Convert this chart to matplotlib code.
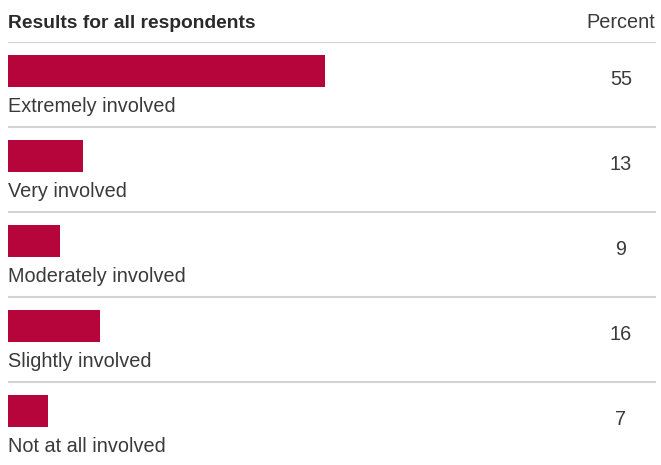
import matplotlib.pyplot as plt

categories = ["Extremely involved", "Very involved", "Moderately involved",
              "Slightly involved", "Not at all involved"]
percent = [55, 13, 9, 16, 7]

BAR_COLOR = "#b5053a"
TEXT_COLOR = "#3a3a3a"
RULE_COLOR = "#d3d3d3"

W, H = 661, 465
fig = plt.figure(figsize=(W / 100, H / 100), dpi=100)
plt.rcParams["font.family"] = ["Liberation Sans", "DejaVu Sans"]

# axes span from the first rule down to the bottom edge, one row = 85 px
left, right, top = 8, 656, 42
row_px = 85
ax = fig.add_axes([left / W, 0, (right - left) / W, (H - top) / H])
ax.set_xlim(0, (right - left) / 5.76)
ax.set_ylim((H - top) / row_px, 0)
ax.axis("off")

for i, (cat, val) in enumerate(zip(categories, percent)):
    ax.axhline(i, color=RULE_COLOR, lw=1.5, zorder=0)
    ax.barh(i + 0.341, val, height=0.376, color=BAR_COLOR, align="center")
    ax.text(0, i + 0.82, cat, fontsize=14.3, color=TEXT_COLOR, va="baseline", ha="left")
    ax.text(106.4, i + 0.445, str(val), fontsize=14.3, color=TEXT_COLOR, va="center", ha="center")

fig.text(left / W, 1 - 28 / H, "Results for all respondents", fontsize=13.9,
         fontweight="bold", color="#2a2a2a", va="baseline", ha="left")
fig.text(655 / W, 1 - 28 / H, "Percent", fontsize=14.3, color=TEXT_COLOR,
         va="baseline", ha="right")

fig.savefig("out.png", dpi=100, facecolor="white")
